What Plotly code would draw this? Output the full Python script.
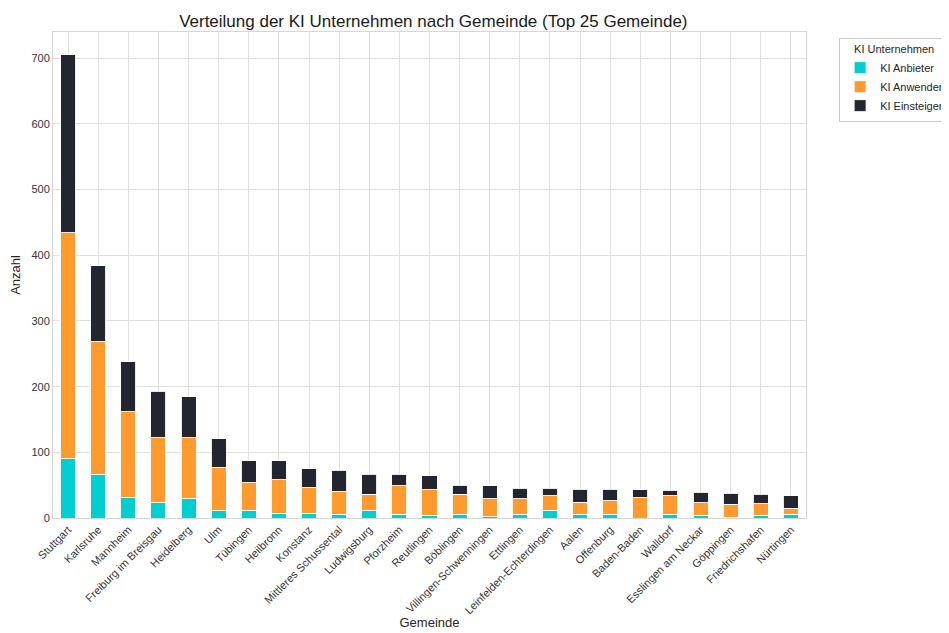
import plotly.graph_objects as go

gemeinden = [
    "Stuttgart", "Karlsruhe", "Mannheim", "Freiburg im Breisgau", "Heidelberg",
    "Ulm", "Tübingen", "Heilbronn", "Konstanz", "Mittleres Schussental",
    "Ludwigsburg", "Pforzheim", "Reutlingen", "Böblingen", "Villingen-Schwenningen",
    "Ettlingen", "Leinfelden-Echterdingen", "Aalen", "Offenburg", "Baden-Baden",
    "Walldorf", "Esslingen am Neckar", "Göppingen", "Friedrichshafen", "Nürtingen",
]

ki_anbieter = [90, 67, 31, 23, 29, 11, 12, 7, 7, 6, 11, 6, 4, 6, 2, 6, 12, 6, 6, 0, 6, 4, 1, 4, 6]
ki_anwender = [344, 202, 131, 99, 93, 66, 42, 51, 39, 35, 25, 43, 39, 30, 27, 23, 22, 18, 20, 31, 28, 19, 20, 18, 9]
ki_einsteiger = [271, 115, 76, 71, 63, 44, 33, 29, 29, 32, 31, 18, 21, 14, 20, 16, 11, 20, 18, 12, 8, 16, 17, 14, 19]

series = [
    ("KI Anbieter", ki_anbieter, "#00CED1"),
    ("KI Anwender", ki_anwender, "#FF9A2E"),
    ("KI Einsteiger", ki_einsteiger, "#23262E"),
]

fig = go.Figure()

# stacked bars, one trace per category of company
for name, values, color in series:
    fig.add_trace(
        go.Bar(
            x=gemeinden,
            y=values,
            name=name,
            marker=dict(color=color, line=dict(color="rgba(255,255,255,0.9)", width=1)),
            width=0.5,
        )
    )

grid = "#e0e0e0"
spine = "#d6d6d6"
font = "Liberation Sans, Arial, sans-serif"

# page body has an 8px margin, so the figure is 8px smaller than the window
fig.update_layout(
    barmode="stack",
    width=941,
    height=625,
    margin=dict(l=45, r=143, t=24, b=115, autoexpand=False),
    plot_bgcolor="white",
    paper_bgcolor="white",
    font=dict(family=font, color="#262626", size=11),
    title=dict(
        text="Verteilung der KI Unternehmen nach Gemeinde (Top 25 Gemeinde)",
        x=0.452, xanchor="center", y=0.979, yanchor="middle",
        font=dict(size=17, color="#1a1a1a"),
    ),
    legend=dict(
        title=dict(text="KI Unternehmen", side="top center", font=dict(size=11)),
        x=1.044, xanchor="left", y=0.988, yanchor="top",
        bordercolor="#cccccc", borderwidth=1, bgcolor="white",
        font=dict(size=11), traceorder="normal",
        itemwidth=30, tracegroupgap=0,
    ),
)

fig.update_xaxes(
    range=[-0.5, 24.5],
    tickangle=-45,
    showgrid=True, gridcolor=grid, gridwidth=1,
    showline=True, linecolor=spine, linewidth=1, mirror=True,
    ticks="", tickfont=dict(size=11, color="#333333"),
    title=dict(text="Gemeinde", font=dict(size=13, color="#262626"), standoff=2),
    automargin=False,
)

fig.update_yaxes(
    range=[0, 740],
    tickvals=[0, 100, 200, 300, 400, 500, 600, 700],
    showgrid=True, gridcolor=grid, gridwidth=1,
    showline=True, linecolor=spine, linewidth=1, mirror=True,
    zeroline=False,
    ticks="", tickfont=dict(size=11, color="#333333"),
    title=dict(text="Anzahl", font=dict(size=13, color="#262626"), standoff=8),
    automargin=False,
)

fig.write_html("out.html")
